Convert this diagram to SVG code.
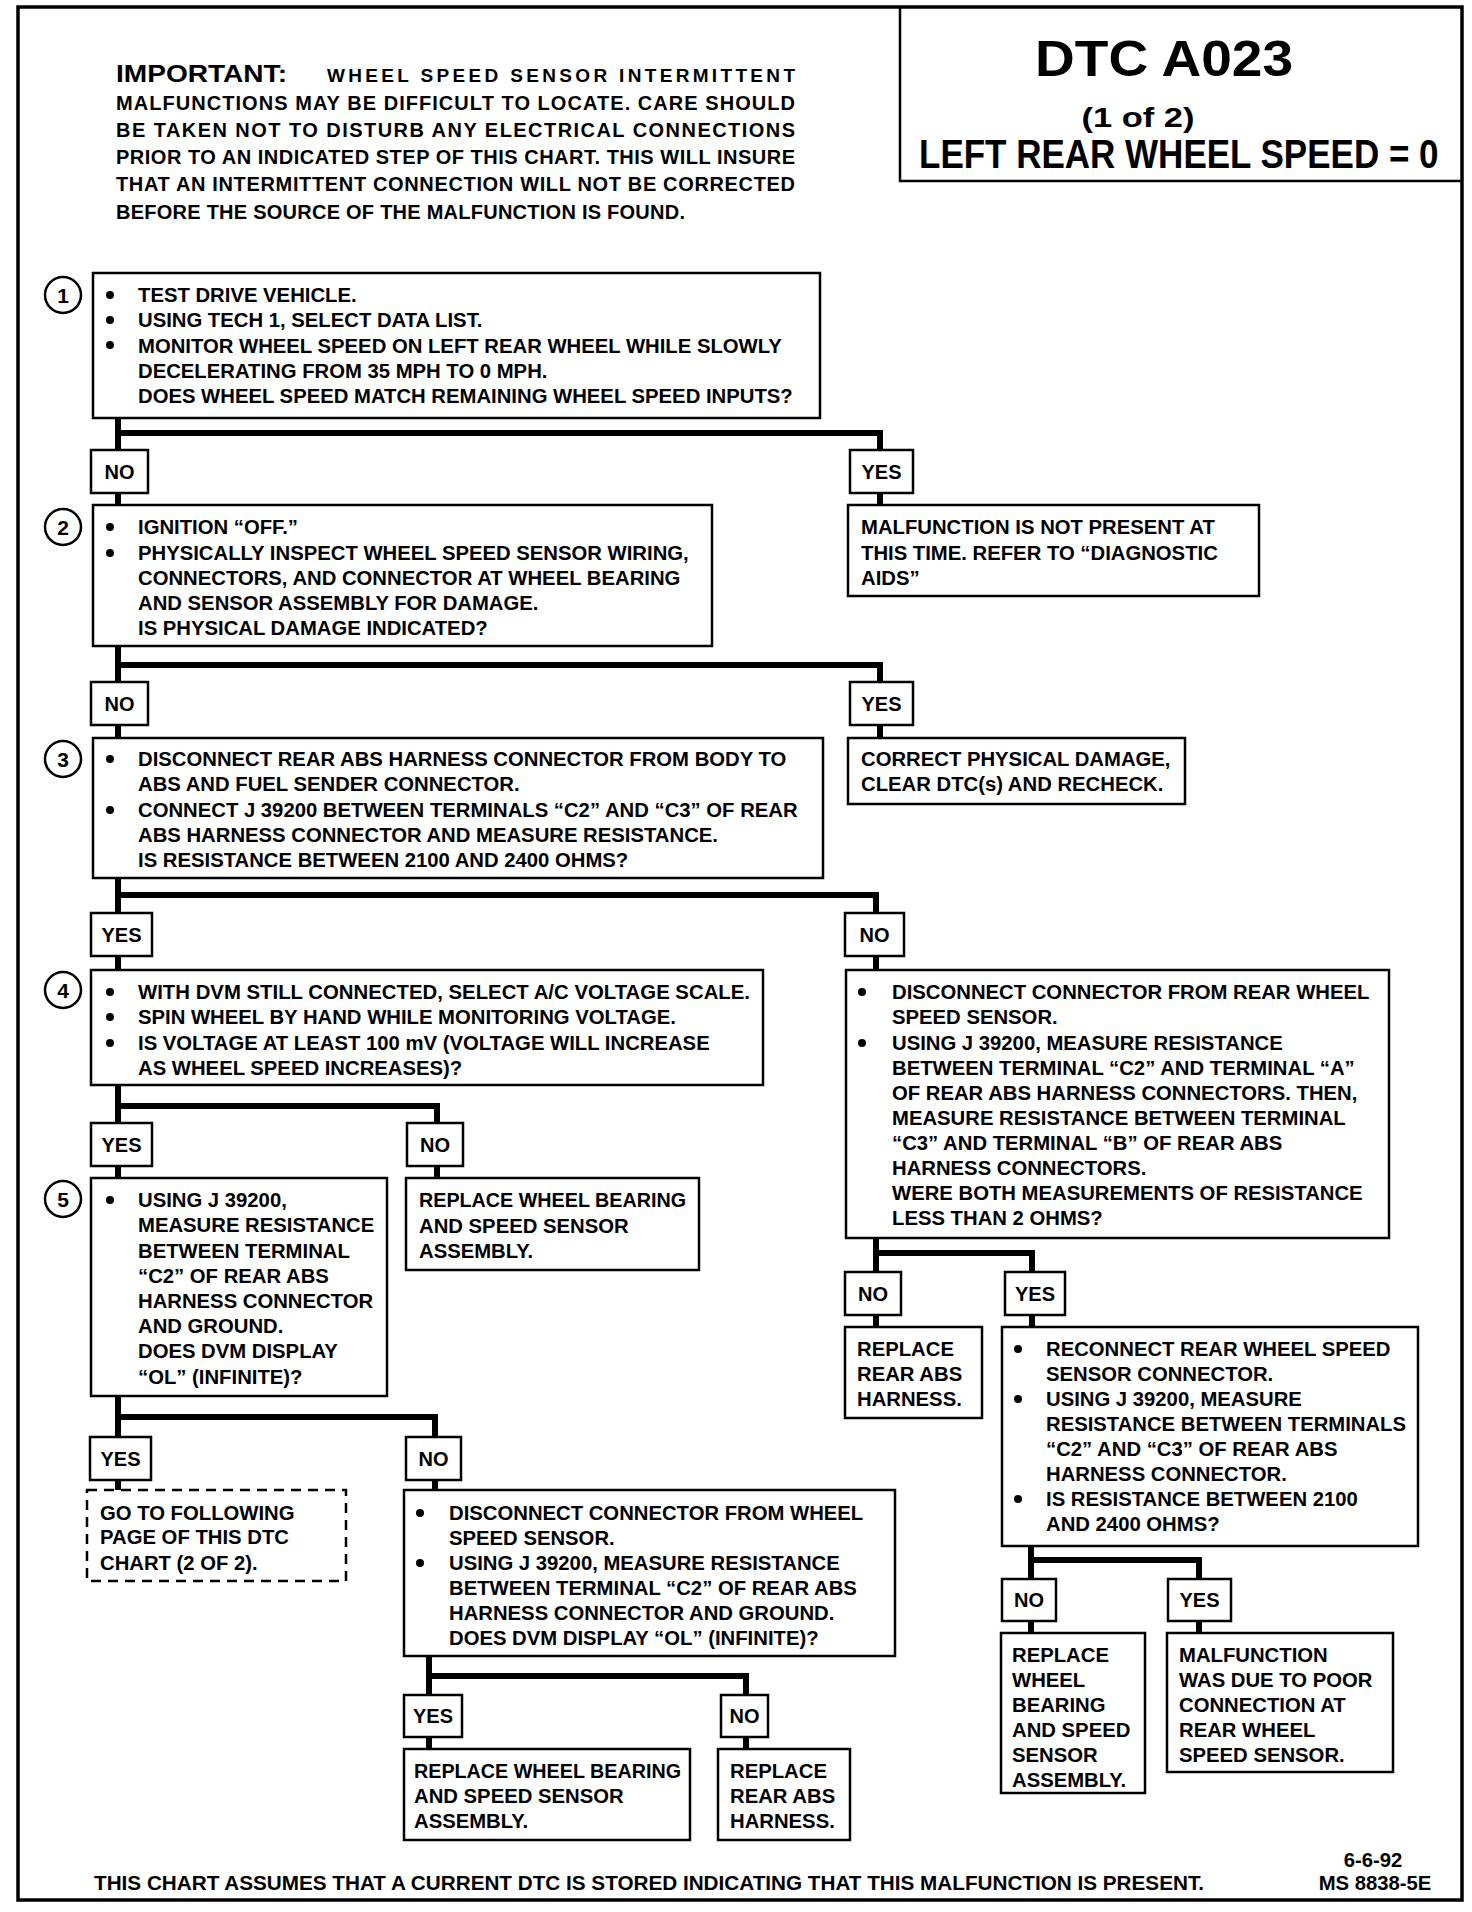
<svg xmlns="http://www.w3.org/2000/svg" width="1472" height="1912" viewBox="0 0 1472 1912">
<style>
.t{font-family:"Liberation Sans",Arial,sans-serif;font-weight:bold;font-size:20.3px;fill:#000}
.imp{font-family:"Liberation Sans",Arial,sans-serif;font-weight:bold;font-size:20px;fill:#000}
.box{fill:#fff;stroke:#000;stroke-width:2.5}
.dash{fill:#fff;stroke:#000;stroke-width:2.5;stroke-dasharray:10 7}
.lbl{fill:#fff;stroke:#000;stroke-width:2.5}
.lt{font-family:"Liberation Sans",Arial,sans-serif;font-weight:bold;font-size:20px;text-anchor:middle}
.num{fill:#fff;stroke:#000;stroke-width:2.5}
.nt{font-family:"Liberation Sans",Arial,sans-serif;font-weight:bold;font-size:21px;text-anchor:middle}
.conn{fill:none;stroke:#000;stroke-width:6;stroke-linejoin:miter}
</style>
<rect width="1472" height="1912" fill="#fff"/>
<rect x="18" y="7" width="1444" height="1893" fill="none" stroke="#000" stroke-width="3.5"/>

<g id="title">
<path d="M900,7 V181 H1462" fill="none" stroke="#000" stroke-width="2.5"/>
<text x="1164" y="76" font-family="Liberation Sans, Arial, sans-serif" font-weight="bold" font-size="50" text-anchor="middle" textLength="258" lengthAdjust="spacingAndGlyphs">DTC A023</text>
<text x="1138" y="127" font-family="Liberation Sans, Arial, sans-serif" font-weight="bold" font-size="28" text-anchor="middle" textLength="113" lengthAdjust="spacingAndGlyphs">(1 of 2)</text>
<text transform="translate(919,168) scale(0.875,1)" x="0" y="0" font-family="Liberation Sans, Arial, sans-serif" font-weight="bold" font-size="40">LEFT REAR WHEEL SPEED = 0</text>
</g>

<g id="important">
<text x="116" y="82" font-family="Liberation Sans, Arial, sans-serif" font-weight="bold" font-size="23" textLength="171" lengthAdjust="spacingAndGlyphs">IMPORTANT:</text>
<text x="327" y="82" font-family="Liberation Sans, Arial, sans-serif" font-weight="bold" font-size="19" textLength="468" lengthAdjust="spacing">WHEEL SPEED SENSOR INTERMITTENT</text>
<text class="imp" x="116" y="110" textLength="679" lengthAdjust="spacing">MALFUNCTIONS MAY BE DIFFICULT TO LOCATE.  CARE SHOULD</text>
<text class="imp" x="116" y="137" textLength="679" lengthAdjust="spacing">BE TAKEN NOT TO DISTURB ANY ELECTRICAL CONNECTIONS</text>
<text class="imp" x="116" y="164" textLength="679" lengthAdjust="spacing">PRIOR TO AN INDICATED STEP OF THIS CHART.  THIS WILL INSURE</text>
<text class="imp" x="116" y="191" textLength="679" lengthAdjust="spacing">THAT AN INTERMITTENT CONNECTION WILL NOT BE CORRECTED</text>
<text class="imp" x="116" y="219" textLength="569" lengthAdjust="spacing">BEFORE THE SOURCE OF THE MALFUNCTION IS FOUND.</text>
</g>

<g id="connectors">
<path class="conn" d="M118,418 V450 M118,433 H880 V450 M118,493 V505 M880,493 V505"/>
<path class="conn" d="M118,646 V682 M118,665 H880 V682 M118,725 V738 M880,725 V738"/>
<path class="conn" d="M118,878 V913 M118,895 H876 V913 M118,956 V970 M876,956 V970"/>
<path class="conn" d="M118,1085 V1123 M118,1106 H437 V1123 M118,1166 V1178 M437,1166 V1178"/>
<path class="conn" d="M118,1396 V1437 M118,1417 H435 V1437 M118,1480 V1490 M435,1480 V1490"/>
<path class="conn" d="M429,1656 V1695 M429,1676 H746 V1695 M429,1737 V1749 M746,1737 V1749"/>
<path class="conn" d="M876,1238 V1272 M876,1253 H1032 V1272 M876,1315 V1327 M1032,1315 V1327"/>
<path class="conn" d="M1031,1546 V1579 M1031,1560 H1199 V1579 M1031,1621 V1633 M1199,1621 V1633"/>
</g>

<g id="step1">
<circle class="num" cx="63" cy="295" r="18"/><text class="nt" x="63" y="303">1</text>
<rect class="box" x="93" y="273" width="727" height="145"/>
<circle cx="110" cy="295" r="4"/><circle cx="110" cy="320" r="4"/><circle cx="110" cy="345" r="4"/>
<text class="t" x="138" y="302">TEST DRIVE VEHICLE.</text>
<text class="t" x="138" y="327">USING TECH 1, SELECT DATA LIST.</text>
<text class="t" x="138" y="353">MONITOR WHEEL SPEED ON LEFT REAR WHEEL WHILE SLOWLY</text>
<text class="t" x="138" y="378">DECELERATING FROM 35 MPH TO 0 MPH.</text>
<text class="t" x="138" y="403">DOES WHEEL SPEED MATCH REMAINING WHEEL SPEED INPUTS?</text>
</g>
<g id="lbl1no"><rect class="lbl" x="91" y="450" width="57" height="43"/><text class="lt" x="119.5" y="479">NO</text></g>
<g id="lbl1yes"><rect class="lbl" x="850" y="450" width="63" height="43"/><text class="lt" x="881.5" y="479">YES</text></g>
<g id="notpresent">
<rect class="box" x="848" y="505" width="411" height="91"/>
<text class="t" x="861" y="534">MALFUNCTION IS NOT PRESENT AT</text>
<text class="t" x="861" y="560">THIS TIME.  REFER TO “DIAGNOSTIC</text>
<text class="t" x="861" y="585">AIDS”</text>
</g>

<g id="step2">
<circle class="num" cx="63" cy="527" r="18"/><text class="nt" x="63" y="535">2</text>
<rect class="box" x="93" y="505" width="619" height="141"/>
<circle cx="110" cy="527" r="4"/><circle cx="110" cy="553" r="4"/>
<text class="t" x="138" y="534">IGNITION “OFF.”</text>
<text class="t" x="138" y="560">PHYSICALLY INSPECT WHEEL SPEED SENSOR WIRING,</text>
<text class="t" x="138" y="585">CONNECTORS, AND CONNECTOR AT WHEEL BEARING</text>
<text class="t" x="138" y="610">AND SENSOR ASSEMBLY FOR DAMAGE.</text>
<text class="t" x="138" y="635">IS PHYSICAL DAMAGE INDICATED?</text>
</g>
<g id="lbl2no"><rect class="lbl" x="91" y="682" width="57" height="43"/><text class="lt" x="119.5" y="711">NO</text></g>
<g id="lbl2yes"><rect class="lbl" x="850" y="682" width="63" height="43"/><text class="lt" x="881.5" y="711">YES</text></g>
<g id="correct">
<rect class="box" x="848" y="738" width="337" height="66"/>
<text class="t" x="861" y="766">CORRECT PHYSICAL DAMAGE,</text>
<text class="t" x="861" y="791">CLEAR DTC(s) AND RECHECK.</text>
</g>

<g id="step3">
<circle class="num" cx="63" cy="759" r="18"/><text class="nt" x="63" y="767">3</text>
<rect class="box" x="93" y="738" width="730" height="140"/>
<circle cx="110" cy="759" r="4"/><circle cx="110" cy="810" r="4"/>
<text class="t" x="138" y="766">DISCONNECT REAR ABS HARNESS CONNECTOR FROM BODY TO</text>
<text class="t" x="138" y="791">ABS AND FUEL SENDER CONNECTOR.</text>
<text class="t" x="138" y="817">CONNECT J 39200 BETWEEN TERMINALS “C2” AND “C3” OF REAR</text>
<text class="t" x="138" y="842">ABS HARNESS CONNECTOR AND MEASURE RESISTANCE.</text>
<text class="t" x="138" y="867">IS RESISTANCE BETWEEN 2100 AND 2400 OHMS?</text>
</g>
<g id="lbl3yes"><rect class="lbl" x="91" y="913" width="61" height="43"/><text class="lt" x="121.5" y="942">YES</text></g>
<g id="lbl3no"><rect class="lbl" x="845" y="913" width="59" height="43"/><text class="lt" x="874.5" y="942">NO</text></g>

<g id="step4">
<circle class="num" cx="63" cy="990" r="18"/><text class="nt" x="63" y="998">4</text>
<rect class="box" x="91" y="970" width="672" height="115"/>
<circle cx="110" cy="992" r="4"/><circle cx="110" cy="1017" r="4"/><circle cx="110" cy="1043" r="4"/>
<text class="t" x="138" y="999" textLength="612" lengthAdjust="spacingAndGlyphs">WITH DVM STILL CONNECTED, SELECT A/C VOLTAGE SCALE.</text>
<text class="t" x="138" y="1024">SPIN WHEEL BY HAND WHILE MONITORING VOLTAGE.</text>
<text class="t" x="138" y="1050">IS VOLTAGE AT LEAST 100 mV (VOLTAGE WILL INCREASE</text>
<text class="t" x="138" y="1075">AS WHEEL SPEED INCREASES)?</text>
</g>

<g id="sensorcheck">
<rect class="box" x="846" y="970" width="543" height="268"/>
<circle cx="862" cy="992" r="4"/><circle cx="862" cy="1043" r="4"/>
<text class="t" x="892" y="999">DISCONNECT CONNECTOR FROM REAR WHEEL</text>
<text class="t" x="892" y="1024">SPEED SENSOR.</text>
<text class="t" x="892" y="1050">USING J 39200, MEASURE RESISTANCE</text>
<text class="t" x="892" y="1075">BETWEEN TERMINAL “C2” AND TERMINAL “A”</text>
<text class="t" x="892" y="1100">OF REAR ABS HARNESS CONNECTORS.  THEN,</text>
<text class="t" x="892" y="1125">MEASURE RESISTANCE BETWEEN TERMINAL</text>
<text class="t" x="892" y="1150">“C3” AND TERMINAL “B” OF REAR ABS</text>
<text class="t" x="892" y="1175">HARNESS CONNECTORS.</text>
<text class="t" x="892" y="1200">WERE BOTH MEASUREMENTS OF RESISTANCE</text>
<text class="t" x="892" y="1225">LESS THAN 2 OHMS?</text>
</g>

<g id="lbl4yes"><rect class="lbl" x="91" y="1123" width="61" height="43"/><text class="lt" x="121.5" y="1152">YES</text></g>
<g id="lbl4no"><rect class="lbl" x="407" y="1123" width="56" height="43"/><text class="lt" x="435" y="1152">NO</text></g>
<g id="replace1">
<rect class="box" x="406" y="1178" width="293" height="92"/>
<text class="t" x="419" y="1207" textLength="267" lengthAdjust="spacingAndGlyphs">REPLACE WHEEL BEARING</text>
<text class="t" x="419" y="1233">AND SPEED SENSOR</text>
<text class="t" x="419" y="1258">ASSEMBLY.</text>
</g>

<g id="step5">
<circle class="num" cx="63" cy="1199" r="18"/><text class="nt" x="63" y="1207">5</text>
<rect class="box" x="91" y="1178" width="296" height="218"/>
<circle cx="110" cy="1200" r="4"/>
<text class="t" x="138" y="1207">USING J 39200,</text>
<text class="t" x="138" y="1232">MEASURE RESISTANCE</text>
<text class="t" x="138" y="1258">BETWEEN TERMINAL</text>
<text class="t" x="138" y="1283">“C2” OF REAR ABS</text>
<text class="t" x="138" y="1308">HARNESS CONNECTOR</text>
<text class="t" x="138" y="1333">AND GROUND.</text>
<text class="t" x="138" y="1358">DOES DVM DISPLAY</text>
<text class="t" x="138" y="1384">“OL” (INFINITE)?</text>
</g>

<g id="lbl5yes"><rect class="lbl" x="90" y="1437" width="61" height="43"/><text class="lt" x="120.5" y="1466">YES</text></g>
<g id="lbl5no"><rect class="lbl" x="406" y="1437" width="55" height="43"/><text class="lt" x="433.5" y="1466">NO</text></g>
<g id="gotopage">
<rect class="dash" x="87" y="1490" width="259" height="91"/>
<text class="t" x="100" y="1520">GO TO FOLLOWING</text>
<text class="t" x="100" y="1544">PAGE OF THIS DTC</text>
<text class="t" x="100" y="1570">CHART (2 OF 2).</text>
</g>
<g id="groundcheck">
<rect class="box" x="404" y="1490" width="491" height="166"/>
<circle cx="420" cy="1513" r="4"/><circle cx="420" cy="1563" r="4"/>
<text class="t" x="449" y="1520">DISCONNECT CONNECTOR FROM WHEEL</text>
<text class="t" x="449" y="1545">SPEED SENSOR.</text>
<text class="t" x="449" y="1570">USING J 39200, MEASURE RESISTANCE</text>
<text class="t" x="449" y="1595">BETWEEN TERMINAL “C2” OF REAR ABS</text>
<text class="t" x="449" y="1620">HARNESS CONNECTOR AND GROUND.</text>
<text class="t" x="449" y="1645">DOES DVM DISPLAY “OL” (INFINITE)?</text>
</g>
<g id="lbl6yes"><rect class="lbl" x="404" y="1695" width="58" height="42"/><text class="lt" x="433" y="1723">YES</text></g>
<g id="lbl6no"><rect class="lbl" x="721" y="1695" width="47" height="42"/><text class="lt" x="744.5" y="1723">NO</text></g>
<g id="replace2">
<rect class="box" x="404" y="1749" width="286" height="91"/>
<text class="t" x="414" y="1778" textLength="267" lengthAdjust="spacingAndGlyphs">REPLACE WHEEL BEARING</text>
<text class="t" x="414" y="1803">AND SPEED SENSOR</text>
<text class="t" x="414" y="1828">ASSEMBLY.</text>
</g>
<g id="replace3">
<rect class="box" x="718" y="1749" width="132" height="91"/>
<text class="t" x="730" y="1778">REPLACE</text>
<text class="t" x="730" y="1803">REAR ABS</text>
<text class="t" x="730" y="1828">HARNESS.</text>
</g>

<g id="lbl7no"><rect class="lbl" x="845" y="1272" width="56" height="43"/><text class="lt" x="873" y="1301">NO</text></g>
<g id="lbl7yes"><rect class="lbl" x="1005" y="1272" width="60" height="43"/><text class="lt" x="1035" y="1301">YES</text></g>
<g id="replace4">
<rect class="box" x="845" y="1327" width="137" height="91"/>
<text class="t" x="857" y="1356">REPLACE</text>
<text class="t" x="857" y="1381">REAR ABS</text>
<text class="t" x="857" y="1406">HARNESS.</text>
</g>
<g id="reconnect">
<rect class="box" x="1002" y="1327" width="416" height="219"/>
<circle cx="1018" cy="1349" r="4"/><circle cx="1018" cy="1399" r="4"/><circle cx="1018" cy="1499" r="4"/>
<text class="t" x="1046" y="1356">RECONNECT REAR WHEEL SPEED</text>
<text class="t" x="1046" y="1381">SENSOR CONNECTOR.</text>
<text class="t" x="1046" y="1406">USING J 39200, MEASURE</text>
<text class="t" x="1046" y="1431" textLength="360" lengthAdjust="spacingAndGlyphs">RESISTANCE BETWEEN TERMINALS</text>
<text class="t" x="1046" y="1456">“C2” AND “C3” OF REAR ABS</text>
<text class="t" x="1046" y="1481">HARNESS CONNECTOR.</text>
<text class="t" x="1046" y="1506">IS RESISTANCE BETWEEN 2100</text>
<text class="t" x="1046" y="1531">AND 2400 OHMS?</text>
</g>
<g id="lbl8no"><rect class="lbl" x="1002" y="1579" width="54" height="42"/><text class="lt" x="1029" y="1607">NO</text></g>
<g id="lbl8yes"><rect class="lbl" x="1168" y="1579" width="63" height="42"/><text class="lt" x="1199.5" y="1607">YES</text></g>
<g id="replace5">
<rect class="box" x="1001" y="1633" width="144" height="160"/>
<text class="t" x="1012" y="1662">REPLACE</text>
<text class="t" x="1012" y="1687">WHEEL</text>
<text class="t" x="1012" y="1712">BEARING</text>
<text class="t" x="1012" y="1737">AND SPEED</text>
<text class="t" x="1012" y="1762">SENSOR</text>
<text class="t" x="1012" y="1787">ASSEMBLY.</text>
</g>
<g id="poorconn">
<rect class="box" x="1167" y="1633" width="226" height="139"/>
<text class="t" x="1179" y="1662">MALFUNCTION</text>
<text class="t" x="1179" y="1687">WAS DUE TO POOR</text>
<text class="t" x="1179" y="1712">CONNECTION AT</text>
<text class="t" x="1179" y="1737">REAR WHEEL</text>
<text class="t" x="1179" y="1762">SPEED SENSOR.</text>
</g>

<g id="footer">
<text class="t" x="94" y="1890" textLength="1110" lengthAdjust="spacingAndGlyphs">THIS CHART ASSUMES THAT A CURRENT DTC IS STORED INDICATING THAT THIS MALFUNCTION IS PRESENT.</text>
<text class="t" x="1373" y="1867" text-anchor="middle">6-6-92</text>
<text class="t" x="1375" y="1890" text-anchor="middle">MS 8838-5E</text>
</g>
</svg>
